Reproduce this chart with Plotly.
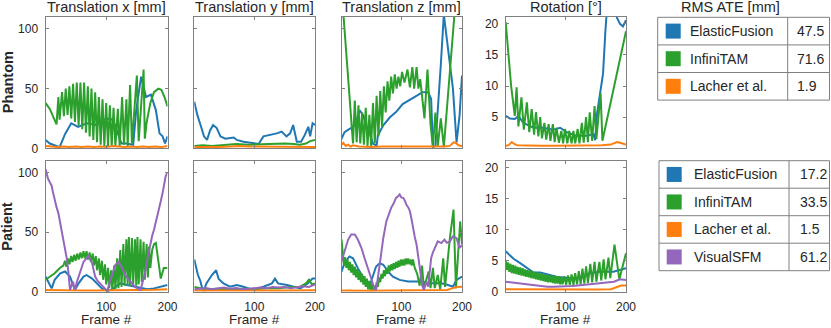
import plotly.graph_objects as go

# ---- data (frame, value) ----
# Phantom, Translation x [mm]
ph_tx_ef = [(1, 7), (8, 4), (24, 1), (33, 12), (43, 21), (54, 18), (68, 21), (84, 19.5), (100, 25), (111, 24),
            (119, 12.5), (125, 4), (133, 4), (144, 3), (149, 32), (157, 60), (165, 43), (173, 45), (181, 32),
            (187, 12.5), (192, 10), (196, 4), (200, 10)]
ph_tx_it = [(1, 38), (8, 33), (19, 20), (22, 43), (24, 24), (28, 47), (31, 27), (34, 50), (37, 28), (40, 52),
            (43, 25), (46, 54), (49, 22), (52, 55), (55, 19), (58, 55), (61, 16), (64, 55), (67, 13), (70, 52),
            (73, 10), (76, 50), (79, 7), (82, 47), (85, 5), (88, 43), (91, 3), (94, 41), (97, 2), (100, 38),
            (103, 2), (106, 36), (109, 2), (112, 34), (115, 2), (119, 33), (122, 2), (126, 43), (129, 3),
            (133, 41), (135, 2), (139, 53), (142, 4), (150, 61), (153, 6), (161, 66), (163, 8), (166, 22),
            (172, 38), (178, 47), (185, 50), (190, 49), (195, 43), (200, 35)]
ph_tx_la = [(1, 2), (10, 1.5), (20, 1), (30, 1.5), (40, 1), (50, 1.5), (60, 1), (70, 1.5), (80, 1), (90, 1.5),
            (100, 1), (110, 2), (120, 1.5), (130, 1), (140, 1.5), (150, 1), (160, 1.5), (170, 1), (180, 1.5),
            (190, 1), (200, 2)]
# Phantom, Translation y [mm]
ph_ty_ef = [(1, 39), (6, 28), (11, 20), (17, 10), (22, 7), (27, 15), (32, 19.5), (38, 17), (44, 10), (52, 8),
            (66, 9), (71, 7), (82, 5.5), (98, 4), (107, 3.6), (115, 10), (126, 11), (137, 12.5), (145, 14),
            (153, 10), (159, 12.5), (164, 19.5), (170, 5.5), (177, 5.5), (183, 11), (189, 18), (192, 10),
            (196, 21), (200, 19.5)]
ph_ty_it = [(1, 2), (15, 2.5), (30, 2), (50, 3), (70, 3.5), (90, 3), (110, 3.5), (130, 4), (150, 4), (165, 3.5),
            (175, 3), (185, 4), (192, 6), (200, 7)]
ph_ty_la = [(1, 1), (20, 0.8), (40, 1), (60, 1.5), (75, 2), (90, 1.5), (110, 1.5), (130, 1.5), (150, 1.2),
            (170, 1), (200, 1)]
# Phantom, Translation z [mm]
ph_tz_ef = [(1, 8), (6, 13.6), (15, 16.4), (23, 19.3), (31, 31.7), (37, 27.6), (42, 19), (48, 12), (53, 3.7),
            (59, 2.3), (61, 10.7), (70, 19.2), (81, 26), (91, 30.3), (102, 37), (111, 40), (122, 43), (135, 47),
            (144, 47), (149, 41.6), (152, 1), (156, 2), (160, 30), (165, 70), (170, 112), (174, 97.5),
            (179, 75), (185, 50), (191, 5), (196, 27.6), (200, 61)]
ph_tz_it = [(3, 120), (12, 60), (17, 30), (20, 4), (23, 40), (26, 5), (29, 36), (32, 4), (35, 30), (38, 3),
            (41, 34), (44, 2), (47, 28), (50, 2), (53, 38), (56, 4), (59, 44), (62, 10), (65, 48), (68, 18),
            (71, 52), (74, 30), (77, 56), (80, 40), (83, 60), (86, 46), (89, 62), (92, 50), (95, 60), (98, 52),
            (101, 64), (105, 55), (110, 66), (114, 51), (118, 68), (121, 50), (125, 68), (128, 50), (131, 58),
            (138, 25), (143, 66), (148, 20), (152, 1), (156, 30), (160, 2), (165, 25), (170, 1), (188, 115)]
ph_tz_la = [(1, 3), (4, 4.5), (8, 2), (12, 3), (16, 1.5), (20, 2.5), (30, 1.5), (50, 1), (70, 1.5), (90, 1.5),
            (110, 1.5), (130, 1.5), (150, 1), (170, 1.5), (180, 2), (186, 5), (190, 4.5), (194, 2.5), (200, 2)]
# Phantom, Rotation [deg]
ph_rot_ef = [(1, 5.2), (8, 4.8), (16, 4.7), (22, 5.2), (30, 4.1), (47, 3.3), (63, 3.3), (80, 3.0), (91, 3.3),
             (102, 2.6), (118, 2.0), (135, 2.0), (146, 2.3), (149, 1.3), (152, 5.5), (157, 8.5), (162, 12),
             (166, 19), (169, 23), (180, 23), (185, 21), (190, 20), (195, 19.6), (200, 20.6)]
ph_rot_it = [(1, 20.3), (5, 15), (10, 10), (16, 5.2), (19, 9.8), (22, 3.5), (27, 8.2), (31, 3.0), (36, 7.4),
             (40, 2.6), (44, 6.3), (48, 2.2), (51, 5.8), (55, 1.9), (58, 5.0), (61, 1.6), (65, 4.1), (68, 1.4),
             (72, 3.9), (75, 1.2), (79, 3.9), (82, 1.0), (85, 3.3), (89, 0.9), (93, 2.8), (96, 0.8), (99, 3.1),
             (103, 0.8), (106, 2.8), (110, 0.8), (113, 2.8), (116, 0.8), (120, 3.1), (123, 0.8), (127, 4.1),
             (130, 0.9), (134, 5.0), (137, 1.0), (140, 5.8), (144, 1.2), (148, 6.8), (151, 1.5), (158, 8.8),
             (161, 1.2), (200, 18.8)]
ph_rot_la = [(1, 0.4), (6, 0.5), (11, 1.0), (15, 0.7), (20, 0.5), (40, 0.4), (60, 0.4), (80, 0.4), (100, 0.4),
             (120, 0.4), (140, 0.5), (160, 0.5), (175, 0.6), (185, 1.0), (190, 0.9), (195, 0.7), (200, 0.6)]

# Patient, Translation x [mm]
pa_tx_ef = [(1, 12.7), (5, 8.5), (11, 2.8), (16, 10), (25, 15.5), (33, 17), (41, 12.7), (49, 1.4), (55, 7),
            (63, 12.7), (68, 14), (77, 11), (85, 7), (93, 2.8), (98, 1.4), (103, 0.5), (112, 2.8), (123, 7),
            (134, 5.6), (145, 4.2), (156, 2.8), (167, 2), (178, 2.8), (189, 4.2), (200, 5.6)]
pa_tx_it = [(1, 10), (8, 12.7), (16, 15.5), (24, 19.7), (30, 22), (33, 26), (35, 21), (38, 28), (40, 23),
            (43, 30), (45, 25), (48, 31), (50, 26), (53, 32), (55, 27), (58, 33), (60, 28), (63, 34), (65, 28),
            (68, 34), (70, 27), (73, 33), (75, 25), (78, 32), (80, 22), (83, 30), (85, 18), (88, 28), (90, 14),
            (93, 26), (95, 10), (98, 23), (100, 6), (103, 20), (105, 3), (108, 18), (110, 1), (113, 22),
            (115, 2), (118, 28), (120, 3), (123, 35), (125, 4), (128, 40), (130, 5), (133, 44), (135, 6),
            (137, 46), (139, 5), (142, 45), (144, 6), (147, 44), (149, 5), (151, 46), (153, 6), (156, 44),
            (158, 8), (161, 42), (163, 10), (166, 40), (168, 12), (170, 38), (172, 20), (175, 35), (178, 40),
            (181, 41), (185, 25), (189, 11), (194, 20), (200, 20)]
pa_tx_la = [(1, 1.5), (20, 1.2), (40, 1), (60, 1), (80, 1), (100, 1), (120, 1), (140, 1.2), (160, 1.4),
            (180, 1.6), (200, 2)]
pa_tx_vs = [(1, 103), (3, 98), (5, 95), (8, 92), (11, 89), (13, 84), (16, 77), (19, 71), (22, 66), (25, 58),
            (27, 52), (30, 45), (33, 38), (36, 27), (38, 18), (40, 8), (41, 1.5), (44, 6), (46, 8.5), (48, 3),
            (49, 1.5), (52, 8), (55, 12.7), (58, 17), (60, 21), (63, 25), (66, 27), (69, 29), (71, 30),
            (74, 27), (77, 24), (80, 17), (82, 12.7), (86, 9), (90, 7), (94, 5), (98, 2.8), (102, 0.5),
            (105, 7), (107, 10), (111, 16), (115, 22.5), (118, 24), (120, 25), (123, 23), (126, 20), (129, 17),
            (131, 14), (137, 10), (142, 7), (147, 4), (151, 2.8), (156, 1.4), (159, 7), (162, 12.7), (165, 20),
            (167, 27), (170, 34), (172, 41), (175, 47), (178, 52), (182, 60), (186, 69), (189, 76), (192, 83),
            (194, 88), (197, 97), (200, 100)]
# Patient, Translation y [mm]
pa_ty_ef = [(1, 27), (4, 20), (7, 14), (11, 9), (14, 3), (17, 1.4), (21, 7), (30, 14), (37, 18), (41, 11),
            (49, 7), (60, 4.2), (71, 5.6), (82, 4.2), (98, 1.4), (115, 4.2), (129, 7), (134, 11), (139, 7),
            (154, 5.6), (165, 4.2), (176, 2.8), (188, 7), (196, 11), (200, 11)]
pa_ty_it = [(1, 4), (10, 3), (20, 2), (40, 2.5), (60, 2), (80, 2.5), (100, 2), (120, 3), (140, 3), (160, 4),
            (175, 4), (185, 7), (190, 10), (195, 6), (200, 7)]
pa_ty_la = [(1, 1), (50, 0.8), (100, 0.8), (150, 1), (200, 1.2)]
pa_ty_vs = [(1, 2), (10, 2.5), (20, 3), (30, 2), (40, 3), (50, 3.5), (60, 2.5), (70, 3), (80, 2), (90, 2.5),
            (100, 3), (110, 3.5), (120, 3), (130, 4), (140, 3.5), (150, 4), (160, 3), (170, 4), (180, 4.5),
            (190, 4), (200, 6)]
# Patient, Translation z [mm]
pa_tz_ef = [(1, 16.9), (6, 24), (14, 29.6), (20, 28), (28, 19.8), (39, 9.9), (47, 4.2), (53, 14), (58, 21),
            (64, 24), (70, 22.6), (78, 16.9), (86, 12.7), (97, 9.9), (111, 8.5), (125, 8.5), (136, 8.5),
            (141, 7), (155, 7), (166, 7), (177, 5.6), (185, 4.2), (191, 9.9), (200, 12.7)]
pa_tz_it = [(1, 44), (3, 31), (5, 22), (7, 29), (9, 20), (11, 27), (13, 18), (15, 25), (17, 16), (19, 23),
            (21, 14), (23, 21), (25, 12), (27, 19), (29, 10), (31, 17), (33, 8), (35, 15), (37, 6), (39, 13),
            (41, 4), (43, 11), (45, 2), (47, 9), (49, 1), (51, 7), (53, 1), (55, 5), (57, 1), (59, 8), (61, 4),
            (63, 12), (65, 8), (67, 15), (69, 11), (71, 18), (73, 13), (75, 20), (77, 15), (79, 22), (81, 17),
            (83, 23), (85, 18), (87, 24), (89, 19), (91, 25), (93, 20), (95, 26), (97, 21), (99, 27), (101, 22),
            (103, 27), (105, 22), (107, 28), (109, 23), (111, 28), (113, 23), (115, 27), (117, 22), (119, 27),
            (122, 20), (126, 15), (130, 5), (134, 22), (137, 3), (141, 10), (145, 17), (148, 3), (152, 20),
            (155, 3), (160, 14), (164, 2), (169, 28), (172, 4), (180, 45), (186, 69), (190, 3), (197, 59),
            (200, 40)]
pa_tz_la = [(1, 1), (20, 0.8), (50, 0.8), (80, 1), (110, 1), (140, 1), (160, 1.2), (175, 1.5), (185, 3),
            (192, 4), (200, 4.2)]
pa_tz_vs = [(1, 25.4), (6, 33.8), (12, 43.8), (17, 48), (23, 48), (28, 43.8), (34, 36.7), (39, 28.3),
            (45, 19.8), (50, 11.3), (55, 2.8), (58, 1.4), (61, 11.3), (64, 22.6), (67, 33), (70, 45), (75, 59),
            (79, 65), (83, 70.4), (87, 74), (91, 78.8), (94, 80), (97, 81.6), (100, 79), (103, 78.8), (106, 76),
            (108, 73.2), (111, 71), (114, 67.6), (117, 60), (119, 53.5), (122, 46), (125, 39.4), (128, 30),
            (130, 22.5), (132, 14), (134, 5.6), (137, 1.4), (141, 8.4), (144, 4.2), (147, 18), (149, 28.2),
            (152, 33), (155, 36.6), (160, 42.2), (166, 40.8), (171, 43.7), (175, 41), (180, 42.2), (185, 46.5),
            (191, 45), (196, 36.7), (200, 39.4)]
# Patient, Rotation [deg]
pa_rot_ef = [(1, 6.5), (14, 5.3), (25, 4.6), (36, 3.8), (47, 3.1), (58, 3.1), (69, 2.8), (85, 2.4), (102, 2.2),
             (118, 2.2), (129, 2.3), (140, 3.0), (157, 3.2), (179, 3.2), (200, 3.8)]
pa_rot_it = [(1, 5.1), (3, 3.5), (5, 4.7), (7, 3.2), (9, 4.5), (11, 3.0), (13, 4.3), (15, 2.9), (17, 4.2),
             (19, 2.8), (21, 4.0), (23, 2.7), (25, 3.9), (27, 2.6), (29, 3.8), (31, 2.5), (33, 3.6), (35, 2.4),
             (37, 3.5), (39, 2.3), (41, 3.4), (43, 2.2), (45, 3.3), (47, 2.1), (49, 3.2), (51, 2.0), (53, 3.1),
             (55, 1.9), (57, 3.0), (59, 1.8), (61, 2.9), (63, 1.7), (65, 2.8), (67, 1.6), (69, 2.7), (71, 1.5),
             (73, 2.7), (75, 1.5), (77, 2.6), (79, 1.4), (81, 2.6), (83, 1.3), (85, 2.5), (87, 1.3), (89, 2.5),
             (91, 1.2), (93, 2.4), (95, 1.2), (98, 2.5), (101, 1.1), (104, 2.6), (107, 1.1), (110, 2.8),
             (113, 1.1), (116, 3.0), (119, 1.2), (122, 3.3), (125, 1.2), (128, 3.7), (131, 1.3), (134, 4.1),
             (137, 1.4), (141, 4.5), (144, 1.5), (148, 4.8), (151, 1.6), (156, 4.8), (159, 1.8), (163, 5.2),
             (166, 2.0), (171, 5.5), (174, 2.2), (181, 7.6), (189, 2.0), (200, 6.2)]
pa_rot_la = [(1, 0.4), (50, 0.35), (100, 0.35), (150, 0.35), (175, 0.4), (185, 0.7), (192, 1.0), (200, 1.0)]
pa_rot_vs = [(1, 1.6), (10, 1.5), (20, 1.3), (30, 1.2), (40, 1.1), (50, 1.0), (60, 0.9), (70, 0.8), (80, 0.8),
             (90, 0.8), (100, 0.8), (110, 0.9), (120, 1.0), (130, 1.1), (140, 1.2), (150, 1.3), (160, 1.4),
             (170, 1.5), (180, 1.6), (185, 1.8), (190, 2.0), (200, 1.9)]

col_titles = ["Translation x [mm]", "Translation y [mm]", "Translation z [mm]", "Rotation [°]"]
row_titles = ["Phantom", "Patient"]
methods = ["ElasticFusion", "InfiniTAM", "Lacher et al.", "VisualSFM"]
phantom_ate = ["47.5", "71.6", "1.9"]
patient_ate = ["17.2", "33.5", "1.5", "61.2"]
x_ticks = [100, 200]
trans_ticks = [0, 50, 100]
rot_ticks_top = [5, 10, 15, 20]
rot_ticks_bottom = [0, 5, 10, 15, 20]

colors = ["#1f77b4", "#2ca02c", "#ff7f0e", "#9467bd"]

panels = [
    [[ph_tx_ef, ph_tx_it, ph_tx_la], [ph_ty_ef, ph_ty_it, ph_ty_la],
     [ph_tz_ef, ph_tz_it, ph_tz_la], [ph_rot_ef, ph_rot_it, ph_rot_la]],
    [[pa_tx_ef, pa_tx_it, pa_tx_la, pa_tx_vs], [pa_ty_ef, pa_ty_it, pa_ty_la, pa_ty_vs],
     [pa_tz_ef, pa_tz_it, pa_tz_la, pa_tz_vs], [pa_rot_ef, pa_rot_it, pa_rot_la, pa_rot_vs]],
]

# ---- layout geometry (pixels of the 831x328 picture, turned into paper fractions) ----
W, H = 831, 328
cols_px = [(45.5, 167.5), (194.3, 315.0), (341.5, 462.0), (505.7, 626.0)]
rows_px = [(17.0, 148.3), (160.7, 291.7)]
FONT = "Liberation Sans, Arial, sans-serif"
TXT = "#262626"
AX = "#808080"


def px(x):
    return x / W


def py(y):
    return 1 - y / H


fig = go.Figure()
layout = {}
n = 0
for r in range(2):
    for c in range(4):
        n += 1
        xa = "xaxis" if n == 1 else "xaxis%d" % n
        ya = "yaxis" if n == 1 else "yaxis%d" % n
        xref = "x" if n == 1 else "x%d" % n
        yref = "y" if n == 1 else "y%d" % n
        for series, color in zip(panels[r][c], colors):
            fig.add_trace(go.Scatter(x=[p[0] for p in series], y=[p[1] for p in series],
                                     mode="lines", line=dict(color=color, width=2),
                                     xaxis=xref, yaxis=yref, showlegend=False, hoverinfo="skip"))
        if c == 3:
            yr = [0, 21.1]
            tv = rot_ticks_top if r == 0 else rot_ticks_bottom
        else:
            yr = [0, 110]
            tv = trans_ticks
        common = dict(ticks="inside", ticklen=3, tickcolor=AX, showline=True, linecolor=AX, linewidth=1,
                      mirror="ticks", showgrid=False, zeroline=False,
                      tickfont=dict(family=FONT, size=12, color=TXT))
        layout[xa] = dict(domain=[px(cols_px[c][0]), px(cols_px[c][1])], range=[1, 200], tickvals=x_ticks,
                          showticklabels=(r == 1), anchor=yref, ticklabelstandoff=4, **common)
        layout[ya] = dict(domain=[py(rows_px[r][1]), py(rows_px[r][0])], range=yr, tickvals=tv,
                          showticklabels=(c in (0, 3)), anchor=xref, ticklabelstandoff=4, **common)

# size follows the browser viewport (div is 100vw x 100vh), everything else is in paper fractions
fig.update_layout(autosize=True, margin=dict(l=0, r=0, t=0, b=0, autoexpand=False), paper_bgcolor="white",
                  plot_bgcolor="white", font=dict(family=FONT, color=TXT), **layout)

ann = []
for c, t in enumerate(col_titles):
    ann.append(dict(text=t, x=px((cols_px[c][0] + cols_px[c][1]) / 2), y=py(6.8), xref="paper", yref="paper",
                    showarrow=False, xanchor="center", yanchor="middle", font=dict(size=14.5, color=TXT)))
    ann.append(dict(text="Frame #", x=px((cols_px[c][0] + cols_px[c][1]) / 2), y=py(319.8), xref="paper",
                    yref="paper", showarrow=False, xanchor="center", yanchor="middle", borderpad=0,
                    font=dict(size=13.5, color=TXT)))
for r, t in enumerate(row_titles):
    ann.append(dict(text="<b>%s</b>" % t, x=px(7.5), y=py((rows_px[r][0] + rows_px[r][1]) / 2), xref="paper",
                    yref="paper", showarrow=False, textangle=-90, xanchor="center", yanchor="middle",
                    font=dict(size=14.5, color=TXT)))
ann.append(dict(text="RMS ATE [mm]", x=px(730.8), y=py(6.8), xref="paper", yref="paper", showarrow=False,
                xanchor="center", yanchor="middle", font=dict(size=14.5, color=TXT)))

shapes = []
tables = [
    dict(x0=657.7, x1=829.5, xd=787.7, y0=17.3, rh=27.6, sq=665.7, tx=688.3, nx=795.0, vals=phantom_ate),
    dict(x0=659.0, x1=829.5, xd=789.0, y0=160.7, rh=27.5, sq=666.7, tx=691.7, nx=798.3, vals=patient_ate),
]
for tb in tables:
    k = len(tb["vals"])
    y1 = tb["y0"] + k * tb["rh"]
    shapes.append(dict(type="rect", xref="paper", yref="paper", x0=px(tb["x0"]), x1=px(tb["x1"]),
                       y0=py(y1), y1=py(tb["y0"]), line=dict(color=AX, width=1)))
    shapes.append(dict(type="line", xref="paper", yref="paper", x0=px(tb["xd"]), x1=px(tb["xd"]),
                       y0=py(y1), y1=py(tb["y0"]), line=dict(color=AX, width=1)))
    for i in range(k):
        top = tb["y0"] + i * tb["rh"]
        mid = top + tb["rh"] / 2
        if i > 0:
            shapes.append(dict(type="line", xref="paper", yref="paper", x0=px(tb["x0"]), x1=px(tb["x1"]),
                               y0=py(top), y1=py(top), line=dict(color=AX, width=1)))
        shapes.append(dict(type="rect", xref="paper", yref="paper", x0=px(tb["sq"]), x1=px(tb["sq"] + 15),
                           y0=py(mid + 7.5), y1=py(mid - 7.5), fillcolor=colors[i], line=dict(width=0)))
        ann.append(dict(text=methods[i], x=px(tb["tx"]), y=py(mid), xref="paper", yref="paper",
                        showarrow=False, xanchor="left", yanchor="middle", font=dict(size=14, color=TXT)))
        ann.append(dict(text=tb["vals"][i], x=px(tb["nx"]), y=py(mid), xref="paper", yref="paper",
                        showarrow=False, xanchor="left", yanchor="middle", font=dict(size=14, color=TXT)))

fig.update_layout(annotations=ann, shapes=shapes)
# page body has a default 8px margin; drop it so the figure sits at the window origin
fig.write_html("out.html", config={"displayModeBar": False}, default_width="100vw", default_height="100vh",
               post_script="document.body.style.margin='0';document.body.style.overflow='hidden';"
                           "document.documentElement.style.overflow='hidden';")
